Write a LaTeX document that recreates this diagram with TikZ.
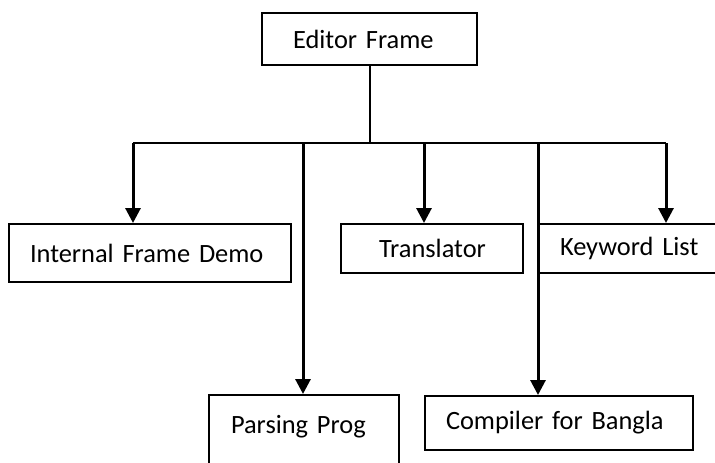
\documentclass[tikz,border=0pt]{standalone}
\usepackage{fontspec}
\setmainfont{Carlito}
\usetikzlibrary{arrows.meta}

\tikzset{
    box/.style={draw, line width=2pt, anchor=north west, inner ysep=0pt,
        inner xsep=21pt, align=left, font=\fontsize{26.4}{31}\selectfont},
    bus/.style={draw, line width=2pt},
    arr/.style={draw, line width=3pt, -{Triangle[width=15pt,length=15pt]}}
}

\begin{document}
\begin{tikzpicture}[x=1pt,y=-1pt]
            \useasboundingbox (0,0) rectangle (715,463);
            \clip (0,0) rectangle (715,463);

            \node[box, text width=153pt, inner xsep=31pt, minimum height=52pt] (editor) at (261,12) {Editor Frame};

            \node[box, text width=240pt, minimum height=58pt] (internal) at (8,223) {Internal Frame Demo};
            \node[box, text width=106pt, inner xsep=38pt, minimum height=49pt] (translator) at (340,223) {Translator};
            \node[box, text width=200pt, minimum height=49pt] (keyword) at (538,223) {Keyword List};

            \node[box, text width=146pt, inner xsep=22pt, text height=38pt, text depth=50pt] (parsing) at (208,394) {Parsing Prog};
            \node[box, text width=226pt, minimum height=54pt] (compiler) at (424,395) {Compiler for Bangla};

            % the bus line under the editor frame
            \coordinate (busL) at (133,143);
            \coordinate (busR) at (666,143);
            \coordinate (busP) at (303,143);
            \coordinate (busT) at (424,143);
            \coordinate (busC) at (538,142);

            \draw[bus] (busL) -- (busR) ;
            \draw[bus] (editor.south) -- (editor.south |- busL);

            \draw[arr] (busL) -- (busL |- internal.north);
            \draw[arr] (busP) -- (busP |- parsing.north);
            \draw[arr] (busT) -- (busT |- translator.north);
            \draw[arr] (busC) -- (busC |- compiler.north);
            \draw[arr] (busR) -- (busR |- keyword.north);
        \end{tikzpicture}
\end{document}
